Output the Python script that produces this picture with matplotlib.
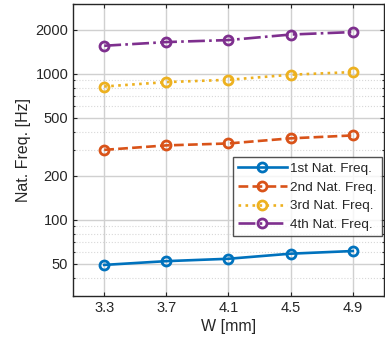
import numpy as np
import matplotlib
matplotlib.use("Agg")
import matplotlib.pyplot as plt
from matplotlib.ticker import FixedLocator, NullFormatter, LogLocator

plt.rcParams['font.family'] = ['Liberation Sans', 'DejaVu Sans']

widths = [3.3, 3.7, 4.1, 4.5, 4.9]
freq_1st = [49, 52, 54, 58.5, 61]
freq_2nd = [301, 323, 333, 361, 378]
freq_3rd = [818, 877, 909, 985, 1027]
freq_4th = [1556, 1649, 1702, 1857, 1931]
series_labels = ['1st Nat. Freq.', '2nd Nat. Freq.', '3rd Nat. Freq.', '4th Nat. Freq.']
y_ticks = [50, 100, 200, 500, 1000, 2000]

colors = ['#0072BD', '#D95319', '#EDB120', '#7E2F8E']
styles = ['-', '--', ':', '-.']

fig = plt.figure(figsize=(3.85, 3.45), dpi=100)
ax = fig.add_axes([0.19, 0.142, 0.807, 0.846])

for vals, lab, c, ls in zip([freq_1st, freq_2nd, freq_3rd, freq_4th],
                            series_labels, colors, styles):
    ax.plot(widths, vals, linestyle=ls, color=c, linewidth=1.9,
            marker='o', markersize=6.5, markerfacecolor='none',
            markeredgewidth=2.0, label=lab)

ax.set_yscale('log')
ax.set_xlim(3.1, 5.1)
ax.set_ylim(30, 3000)
ax.set_xticks(widths)
ax.set_xticklabels([f'{w:.1f}' for w in widths])
ax.yaxis.set_major_locator(FixedLocator(y_ticks))
ax.set_yticklabels([str(t) for t in y_ticks])
ax.yaxis.set_minor_locator(LogLocator(base=10, subs=np.arange(2, 10)))
ax.yaxis.set_minor_formatter(NullFormatter())

ax.grid(True, which='major', color='#d0d0d0', linewidth=1.0)
ax.grid(True, which='minor', axis='y', color='#d8d8d8', linestyle=':', linewidth=0.8)
ax.set_axisbelow(True)

ax.tick_params(axis='both', which='both', direction='in', top=True, right=True,
               labelsize=10.5, colors='#262626', length=3, width=0.8)
ax.tick_params(axis='y', which='minor', length=1.5)
for s in ax.spines.values():
    s.set_color('#262626')
    s.set_linewidth(1.0)

ax.set_xlabel('W [mm]', fontsize=11.5, color='#262626', labelpad=3)
ax.set_ylabel('Nat. Freq. [Hz]', fontsize=11.5, color='#262626', labelpad=3)

leg = ax.legend(loc='upper right', fontsize=9.7, frameon=True, fancybox=False,
                edgecolor='#262626', borderpad=0.4, labelspacing=0.47,
                handlelength=3.6, handletextpad=0.25, borderaxespad=0.0,
                bbox_to_anchor=(382 / 385, 1 - 157 / 345),
                bbox_transform=fig.transFigure)
leg.get_frame().set_linewidth(1.0)
for t in leg.get_texts():
    t.set_color('#262626')

fig.savefig('out.png', dpi=100)
